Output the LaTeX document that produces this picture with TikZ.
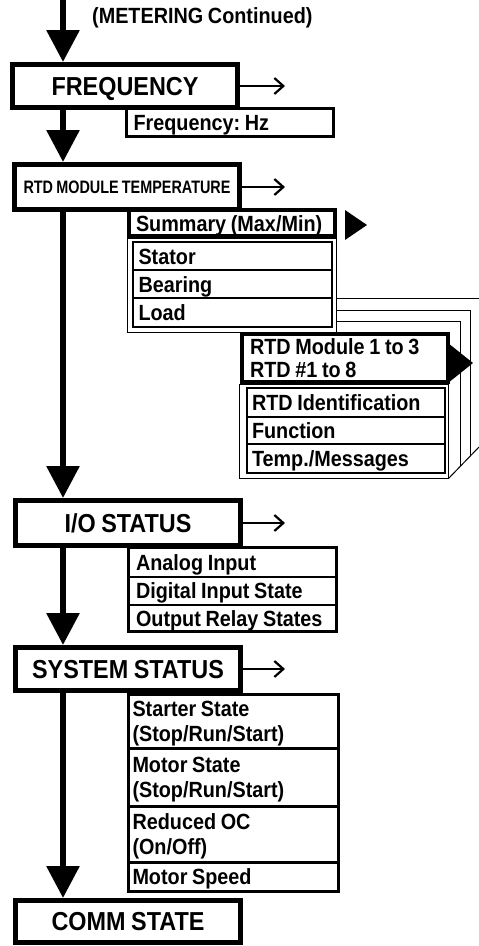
\documentclass[tikz,border=0pt]{standalone}
\usepackage{fontspec}
\newfontfamily\hbfam{Liberation Sans}[FakeStretch=0.9,WordSpace=0.85]
\newfontfamily\hbcfam{Liberation Sans}[FakeStretch=0.8,WordSpace=0.8]
\usetikzlibrary{arrows.meta}
\frenchspacing
\newcommand\mainlab{\hbfam\bfseries\fontsize{26pt}{30pt}\selectfont}
\newcommand\sublab{\hbfam\bfseries\fontsize{22pt}{24pt}\selectfont}
\newcommand\condlab{\hbcfam\bfseries\fontsize{18pt}{20pt}\selectfont}
\begin{document}
\begin{tikzpicture}[x=1pt,y=-1pt,
  mainbox/.style={draw, line width=5pt, fill=white, font=\mainlab, text height=18.6pt, text depth=0pt, inner sep=0pt, minimum width=225pt},
  subbox/.style={draw, line width=3pt, fill=white, font=\sublab, text height=16pt, text depth=0pt, inner ysep=0pt, align=flush left, execute at begin node={\spaceskip=0pt\xspaceskip=0pt}},
  itembox/.style={draw, line width=1.5pt, fill=white, font=\sublab, text height=16pt, text depth=0pt, inner ysep=0pt, align=flush left, execute at begin node={\spaceskip=0pt\xspaceskip=0pt}},
  framebox/.style={draw, line width=1pt, fill=white, inner sep=0pt},
  spinearrow/.style={line width=6pt, -{Triangle[length=32pt,width=32pt]}},
  smallarrow/.style={line width=1.3pt, -{Straight Barb[length=9pt,width=16pt,line width=2.2pt]}},
  thinline/.style={line width=1pt}
]
\useasboundingbox (0,0) rectangle (479,946);
\fill[white] (0,0) rectangle (479,946);

\coordinate (spine) at (63,0);
\coordinate (tipx) at (285,0);

% main boxes
\node[mainbox, minimum height=43pt] (freq) at (125,86) {FREQUENCY};
\node[mainbox, minimum height=45pt, font=\condlab, text height=13pt] (rtd) at (127,187) {RTD MODULE TEMPERATURE};
\node[mainbox, minimum height=45pt] (io) at (128,523) {I/O STATUS};
\node[mainbox, minimum height=43pt] (sys) at (128,669) {SYSTEM STATUS};
\node[mainbox, minimum height=42pt] (comm) at (128,921.5) {COMM STATE};

\node[anchor=base west, font=\sublab, inner sep=0pt] (meter) at (92,23) {(METERING Continued)};

% spine arrows
\draw[spinearrow] (spine) -- (freq.north -| spine);
\draw[spinearrow] (freq.south -| spine) -- (rtd.north -| spine);
\draw[spinearrow] (rtd.south -| spine) -- (io.north -| spine);
\draw[spinearrow] (io.south -| spine) -- (sys.north -| spine);
\draw[spinearrow] (sys.south -| spine) -- (comm.north -| spine);

% small arrows
\draw[smallarrow] (freq.east) -- (freq.east -| tipx);
\draw[smallarrow] (rtd.east) -- (rtd.east -| tipx);
\draw[smallarrow] (io.east) -- (io.east -| tipx);
\draw[smallarrow] (sys.east) -- (sys.east -| tipx);

% frequency sub box
\node[subbox, text width=193pt, inner xsep=7pt, minimum height=28pt] (fhz) at (230,122.5) {Frequency: Hz};

% RTD summary group
\node[framebox, minimum width=209pt, minimum height=94pt] (sumframe) at (231.5,285) {};
\node[itembox, text width=188pt, inner xsep=5.5pt, minimum height=28pt] (stator) at (232.5,256) {Stator};
\node[itembox, text width=188pt, inner xsep=5.5pt, minimum height=28pt] (bearing) at (232.5,284) {Bearing};
\node[itembox, text width=188pt, inner xsep=5.5pt, minimum height=29pt] (load) at (232.5,312.5) {Load};
\node[subbox, line width=4pt, text width=192pt, inner xsep=7pt, minimum height=26pt] (summ) at (232,223) {Summary (Max/Min)};
\fill (345,210) -- (345,240) -- (367,225) -- cycle;

% stacked pages
\coordinate (st1) at (479,298);
\coordinate (st2) at (470,310);
\coordinate (st3) at (460,321);
\draw[thinline] (sumframe.east |- st1) -- (st1);
\draw[thinline] (sumframe.east |- st2) -- (st2) -- (470,456);
\draw[thinline] (sumframe.east |- st3) -- (st3) -- (460,466);

% RTD module group
\node[framebox, minimum width=209pt, minimum height=94pt] (rtdframe) at (343.5,431) {};
\draw[thinline] (rtdframe.south east) -- (479,447);
\node[itembox, text width=188pt, inner xsep=5pt, minimum height=29pt] (rtdid) at (346,402.5) {RTD Identification};
\node[itembox, text width=188pt, inner xsep=5pt, minimum height=27pt] (func) at (346,430.5) {Function};
\node[itembox, text width=188pt, inner xsep=5pt, minimum height=29pt] (temp) at (346,458.5) {Temp./Messages};
\node[subbox, line width=4pt, text width=190pt, inner xsep=8pt, minimum height=48pt, text height=16pt, text depth=23pt] (mod) at (345,358) {RTD Module 1 to 3\\[-1pt]RTD \#1 to 8};
\fill (448,343) -- (448,383) -- (473,363) -- cycle;

% I/O sub list
\node[itembox, line width=2pt, text width=193pt, inner xsep=7.5pt, minimum height=29pt] (analog) at (232.5,562) {Analog Input};
\node[itembox, line width=2pt, text width=193pt, inner xsep=7.5pt, minimum height=28pt] (digital) at (232.5,590.5) {Digital Input State};
\node[itembox, line width=2pt, text width=193pt, inner xsep=7.5pt, minimum height=27pt] (outrel) at (232.5,618) {Output Relay States};
\node[draw, line width=3pt, minimum width=208pt, minimum height=84pt, inner sep=0pt] (iosub) at (232.5,589.5) {};

% system sub list
\node[itembox, line width=3pt, text width=202pt, inner xsep=4pt, minimum height=53.5pt, text depth=25pt] (starter) at (233.5,721.25) {Starter State\\[1pt](Stop/Run/Start)};
\node[itembox, line width=3pt, text width=202pt, inner xsep=4pt, minimum height=58pt, text depth=25pt] (motor) at (233.5,777) {Motor State\\[1pt](Stop/Run/Start)};
\node[itembox, line width=3pt, text width=202pt, inner xsep=4pt, minimum height=56pt, text depth=25pt] (redoc) at (233.5,834) {Reduced OC\\[1pt](On/Off)};
\node[itembox, line width=3pt, text width=202pt, inner xsep=4pt, minimum height=29.5pt] (speed) at (233.5,876.75) {Motor Speed};
\end{tikzpicture}
\end{document}
